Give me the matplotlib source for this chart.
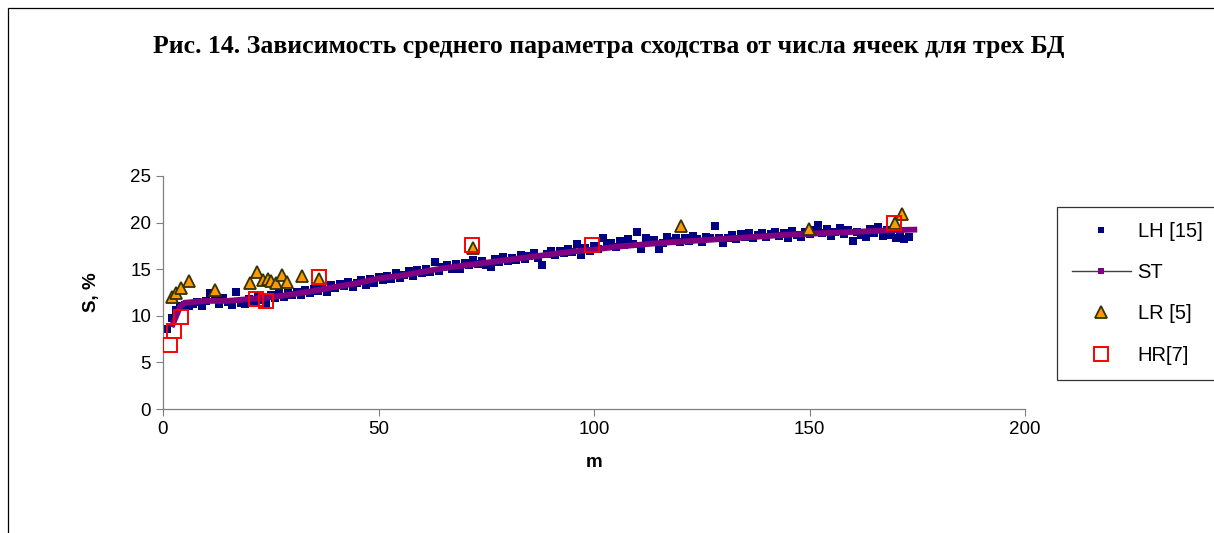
import matplotlib
matplotlib.use("Agg")
import matplotlib.pyplot as plt
from matplotlib.lines import Line2D
from matplotlib.patches import Rectangle

plt.rcParams['font.family'] = ['Liberation Sans', 'DejaVu Sans']

# LH [15]: m = 1..173
lh_m = list(range(1, 174))
lh_s = [8.6, 9.8, 10.6, 11.0, 11.2, 11.0, 11.3, 11.5, 11.1, 11.6,
        12.4, 11.8, 11.3, 11.9, 11.5, 11.2, 12.6, 11.4, 11.3, 11.8,
        11.5, 12.1, 11.7, 11.4, 12.2, 11.9, 12.4, 12.0, 12.5, 12.2,
        12.6, 12.2, 12.8, 12.4, 12.9, 12.7, 13.1, 12.6, 13.3, 13.0,
        13.4, 13.2, 13.6, 13.1, 13.5, 13.8, 13.3, 13.9, 13.5, 14.2,
        13.8, 14.3, 14.0, 14.6, 14.1, 14.4, 14.8, 14.3, 14.9, 14.6,
        15.0, 14.7, 15.8, 14.8, 15.2, 15.4, 15.0, 15.6, 15.0, 15.7,
        15.4, 16.0, 15.6, 15.9, 15.5, 15.2, 16.1, 15.8, 16.3, 15.9,
        16.2, 16.0, 16.5, 16.1, 16.4, 16.7, 16.2, 15.5, 16.6, 16.9,
        16.5, 17.0, 16.7, 17.2, 16.8, 17.7, 16.5, 17.3, 17.0, 17.5,
        17.2, 18.3, 17.5, 17.8, 17.4, 18.0, 17.6, 18.2, 17.7, 19.0,
        17.2, 18.4, 17.9, 18.1, 17.2, 17.8, 18.5, 18.0, 18.3, 17.9,
        18.4, 18.0, 18.6, 18.2, 17.9, 18.5, 18.3, 19.6, 18.4, 17.8,
        18.4, 18.7, 18.2, 18.8, 18.5, 18.9, 18.3, 18.7, 18.9, 18.5,
        18.8, 19.0, 18.6, 18.9, 18.4, 19.1, 18.7, 18.5, 19.0, 18.8,
        19.2, 19.7, 18.9, 19.3, 18.6, 19.0, 19.4, 18.8, 19.2, 18.0,
        19.0, 18.7, 18.5, 19.3, 18.9, 19.5, 18.6, 19.2, 18.7, 18.4,
        18.9, 18.2, 18.5]

# ST trend line
st_m = [2, 3, 4, 5, 10, 15, 20, 25, 30, 34, 40, 45, 50, 55, 60, 65, 70, 75,
        80, 85, 90, 95, 100, 105, 110, 115, 120, 125, 130, 135, 140, 145,
        150, 155, 160, 165, 170, 175]
st_s = [8.8, 9.9, 11.0, 11.4, 11.6, 11.6, 11.8, 12.0, 12.3, 12.6, 13.1, 13.5,
        14.0, 14.3, 14.7, 15.1, 15.4, 15.7, 16.0, 16.3, 16.6, 16.9, 17.1,
        17.4, 17.6, 17.8, 17.95, 18.1, 18.25, 18.4, 18.55, 18.7, 18.8, 18.9,
        19.0, 19.1, 19.2, 19.25]

# LR [5]
lr_m = [2.0, 3.0, 4.2, 6.1, 12.1, 20.2, 21.7, 23.3, 24.4, 25.0, 26.2, 27.5,
        28.8, 32.2, 36.3, 72.0, 120.2, 149.9, 169.8, 171.4]
lr_s = [12.0, 12.5, 13.0, 13.7, 12.8, 13.5, 14.7, 13.8, 13.9, 13.7, 13.5,
        14.4, 13.6, 14.3, 14.0, 17.3, 19.6, 19.3, 20.0, 20.9]

# HR[7]
hr_m = [1.6, 2.6, 4.1, 21.6, 23.9, 36.2, 71.7, 99.5, 169.6]
hr_s = [6.9, 8.4, 9.9, 11.8, 11.6, 14.2, 17.6, 17.6, 20.0]

x_ticks = [0, 50, 100, 150, 200]
y_ticks = [0, 5, 10, 15, 20, 25]

fig = plt.figure(figsize=(12.14, 5.33), dpi=100)
ax = fig.add_axes([163/1214, 1-409/533, (1025-163)/1214, (409-176)/533])

ax.plot(lh_m, lh_s, linestyle='none', marker='s', markersize=5.2,
        color='#000080', markeredgewidth=0, zorder=2)
ax.plot(st_m, st_s, color='#800080', linewidth=4.2, solid_capstyle='butt', zorder=3)
ax.plot(lr_m, lr_s, linestyle='none', marker='^', markersize=9,
        markerfacecolor='#FF9900', markeredgecolor='#333300',
        markeredgewidth=1.3, zorder=4)
ax.plot(hr_m, hr_s, linestyle='none', marker='s', markersize=9.5,
        markerfacecolor='none', markeredgecolor='#FF0000',
        markeredgewidth=1.4, zorder=5)

ax.set_xlim(0, 200)
ax.set_ylim(0, 25)
ax.set_xticks(x_ticks)
ax.set_yticks(y_ticks)
ax.tick_params(labelsize=13.5, direction='out', length=5, width=0.8, color='#808080')
for sp in ['top', 'right']:
    ax.spines[sp].set_visible(False)
for sp in ['left', 'bottom']:
    ax.spines[sp].set_color('#808080')
    ax.spines[sp].set_linewidth(0.9)

ax.set_xlabel('m', fontsize=13.5, fontweight='bold', labelpad=12)
ax.set_ylabel('S, %', fontsize=13.5, fontweight='bold', labelpad=22)

fig.text(609/1214, 1-46/533, 'Рис. 14. Зависимость среднего параметра сходства от числа ячеек для трех БД',
         ha='center', va='center', fontsize=18.5, fontweight='bold',
         family=['Liberation Serif', 'DejaVu Serif'])

handles = [
    Line2D([], [], linestyle='none', marker='s', markersize=5, color='#000080', markeredgewidth=0),
    Line2D([], [], color='#404040', linewidth=1, marker='s', markersize=4,
           markerfacecolor='#800080', markeredgewidth=0),
    Line2D([], [], linestyle='none', marker='^', markersize=9, markerfacecolor='#FF9900',
           markeredgecolor='#333300', markeredgewidth=1.3),
    Line2D([], [], linestyle='none', marker='s', markersize=10, markerfacecolor='none',
           markeredgecolor='#FF0000', markeredgewidth=1.4),
]
leg = fig.legend(handles, ['LH [15]', 'ST', 'LR [5]', 'HR[7]'],
                 loc='upper left', bbox_to_anchor=(1057/1214, 1-207/533),
                 fontsize=14.5, frameon=True, fancybox=False, edgecolor='black',
                 handlelength=2.9, handletextpad=0.35, labelspacing=1.1,
                 borderpad=0.75, borderaxespad=0)
leg.get_frame().set_linewidth(0.9)

# outer chart border
fig.patches.append(Rectangle((8/1214, -0.1), 1.2, 1 - 8/533 + 0.1,
                             transform=fig.transFigure, fill=False,
                             edgecolor='black', linewidth=0.9))

fig.savefig('out.png', dpi=100)
